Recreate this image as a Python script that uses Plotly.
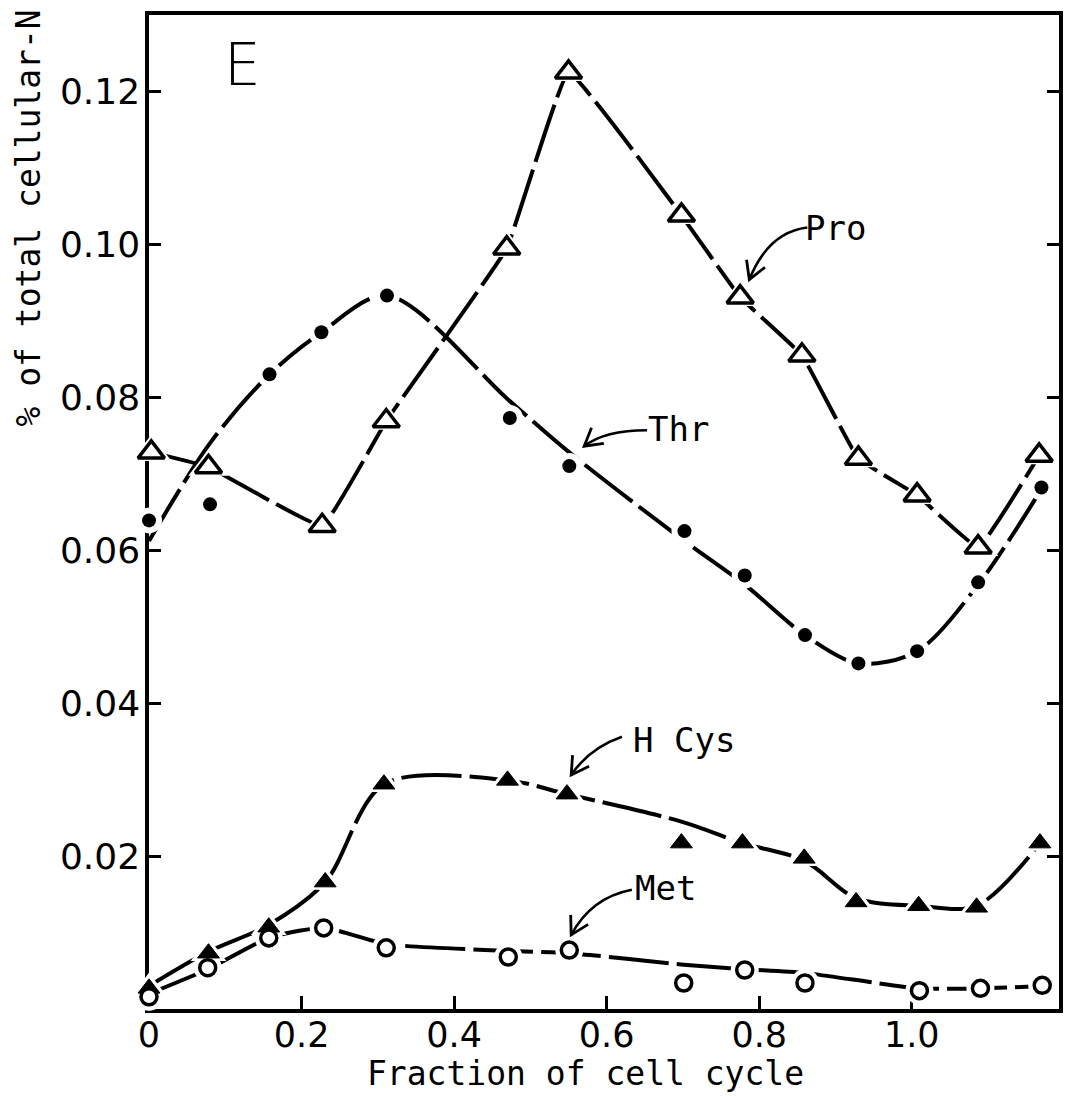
import math
import plotly.graph_objects as go

# ---------------- data ----------------
# Pro (open triangles)
pro_x = [0.003, 0.078, 0.227, 0.311, 0.469, 0.550, 0.698, 0.775, 0.856, 0.930, 1.007, 1.087, 1.167]
pro_y = [0.0728, 0.0709, 0.0632, 0.0769, 0.0995, 0.1225, 0.1038, 0.0931, 0.0855, 0.0720, 0.0672, 0.0604, 0.0724]

# Thr (filled circles) and the hand-drawn curve through them
thr_x = [0.0, 0.080, 0.158, 0.226, 0.312, 0.473, 0.551, 0.702, 0.781, 0.860, 0.930, 1.007, 1.087, 1.170]
thr_y = [0.0639, 0.0660, 0.0830, 0.0885, 0.0933, 0.0773, 0.0710, 0.0625, 0.0567, 0.0489, 0.0452, 0.0468, 0.0558, 0.0682]
thr_curve = [0.0612, 0.0740, 0.0830, 0.0885, 0.0933, 0.0795, 0.0728, 0.0612, 0.0555, 0.0489, 0.0452, 0.0468, 0.0555, 0.0680]

# H Cys (filled triangles)
hcys_x = [0.0, 0.078, 0.157, 0.231, 0.308, 0.470, 0.548, 0.698, 0.778, 0.859, 0.927, 1.009, 1.085, 1.168]
hcys_y = [0.0027, 0.0073, 0.0107, 0.0166, 0.0294, 0.0299, 0.0281, 0.0217, 0.0217, 0.0197, 0.0140, 0.0135, 0.0133, 0.0217]
hcys_curve = [0.0030, 0.0075, 0.0110, 0.0166, 0.0294, 0.0299, 0.0281, 0.0245, 0.0217, 0.0194, 0.0145, 0.0135, 0.0135, 0.0217]

# Met (open circles)
met_x = [0.0, 0.077, 0.157, 0.229, 0.311, 0.471, 0.551, 0.701, 0.781, 0.860, 1.010, 1.090, 1.171]
met_y = [0.0016, 0.0054, 0.0093, 0.0106, 0.0080, 0.0068, 0.0077, 0.0034, 0.0051, 0.0034, 0.0024, 0.0027, 0.0031]
met_curve = [0.0020, 0.0052, 0.0093, 0.0106, 0.0085, 0.0076, 0.0073, 0.0058, 0.0052, 0.0047, 0.0027, 0.0027, 0.0030]

x_tickvals = [0, 0.2, 0.4, 0.6, 0.8, 1.0]
x_ticktext = ["0", "0.2", "0.4", "0.6", "0.8", "1.0"]
y_tickvals = [0.02, 0.04, 0.06, 0.08, 0.10, 0.12]
y_ticktext = ["0.02", "0.04", "0.06", "0.08", "0.10", "0.12"]

# label positions (text), curved arrow start/control/tip
labels = [
    ("Pro", 0.8995, 0.1022, (0.863, 0.1022), (0.812, 0.1016), (0.787, 0.0954)),
    ("Thr", 0.6945, 0.0759, (0.653, 0.0757), (0.597, 0.0757), (0.5705, 0.0736)),
    ("H Cys", 0.701, 0.0352, (0.620, 0.0356), (0.577, 0.0341), (0.5535, 0.0306)),
    ("Met", 0.6775, 0.0158, (0.633, 0.0156), (0.580, 0.0146), (0.5535, 0.0097)),
]

# ---------------- geometry ----------------
W, H = 1066, 1096
ML, MR, MT, MB = 149, 3, 15, 87
XR = [0, 1.193]
YR = [0, 0.13]
PX_X = (W - ML - MR) / (XR[1] - XR[0])
PX_Y = (H - MT - MB) / (YR[1] - YR[0])

fig = go.Figure()

series_lines = [(pro_x, pro_y, 0.25), (thr_x, thr_curve, 0.9), (hcys_x, hcys_curve, 0.9), (met_x, met_curve, 0.6)]
for xs, ys, sm in series_lines:
    fig.add_trace(go.Scatter(x=xs, y=ys, mode="lines",
                             line=dict(color="black", width=4, shape="spline", smoothing=sm, dash="60px,8px"),
                             hoverinfo="skip", showlegend=False, cliponaxis=False))

markers = [
    (pro_x, pro_y, "triangle-up", 23, "white", 3.5),
    (thr_x, thr_y, "circle", 14, "black", 0),
    (hcys_x, hcys_y, "triangle-up", 19, "black", 1),
    (met_x, met_y, "circle", 16, "white", 3.5),
]

# white halos (gaps in lines around markers)
for xs, ys, sym, sz, fill, lw in markers:
    fig.add_trace(go.Scatter(x=xs, y=ys, mode="markers",
                             marker=dict(symbol=sym, size=sz + 12, color="white", line=dict(width=0)),
                             hoverinfo="skip", showlegend=False, cliponaxis=False))

for xs, ys, sym, sz, fill, lw in markers:
    fig.add_trace(go.Scatter(x=xs, y=ys, mode="markers",
                             marker=dict(symbol=sym, size=sz, color=fill,
                                         line=dict(width=lw, color="black")),
                             showlegend=False, cliponaxis=False))

annotations = []
shapes = []
ARM = 20.0
ANG = math.radians(30)
for text, tx, ty, st, ct, tp in labels:
    annotations.append(dict(x=tx, y=ty, xref="x", yref="y", text=text, showarrow=False,
                            font=dict(family="DejaVu Sans Mono", size=34, color="black"),
                            xanchor="center", yanchor="middle"))
    shapes.append(dict(type="path", xref="x", yref="y",
                       path=f"M {st[0]},{st[1]} Q {ct[0]},{ct[1]} {tp[0]},{tp[1]}",
                       line=dict(color="black", width=2.6)))
    # open V arrowhead, built in pixel space then mapped back to data units
    bx = (ct[0] - tp[0]) * PX_X
    by = (ct[1] - tp[1]) * PX_Y
    n = math.hypot(bx, by)
    bx, by = bx / n, by / n
    pts = []
    for s in (1, -1):
        c, si = math.cos(s * ANG), math.sin(s * ANG)
        rx = bx * c - by * si
        ry = bx * si + by * c
        pts.append((tp[0] + rx * ARM / PX_X, tp[1] + ry * ARM / PX_Y))
    shapes.append(dict(type="path", xref="x", yref="y",
                       path=f"M {pts[0][0]},{pts[0][1]} L {tp[0]},{tp[1]} L {pts[1][0]},{pts[1][1]}",
                       line=dict(color="black", width=2.8)))

# panel letter
annotations.append(dict(x=0.123, y=0.1234, xref="x", yref="y", text="E", showarrow=False,
                        font=dict(family="DejaVu Sans", size=58, color="black", weight=300),
                        xanchor="center", yanchor="middle"))
# axis titles
annotations.append(dict(x=(587 - ML) / (W - ML - MR), y=-(1073 - (H - MB)) / (H - MT - MB),
                        xref="paper", yref="paper",
                        text="Fraction of cell cycle", showarrow=False,
                        font=dict(family="DejaVu Sans Mono", size=33, color="black"),
                        xanchor="center", yanchor="middle"))
annotations.append(dict(x=-(ML - 28) / (W - ML - MR), y=((H - MB) - 218) / (H - MT - MB),
                        xref="paper", yref="paper",
                        text="% of total cellular-N", showarrow=False, textangle=-90,
                        font=dict(family="DejaVu Sans Mono", size=33, color="black"),
                        xanchor="center", yanchor="middle"))

fig.update_layout(
    width=W, height=H,
    margin=dict(l=ML, r=MR, t=MT, b=MB),
    paper_bgcolor="white", plot_bgcolor="white",
    annotations=annotations, shapes=shapes,
    showlegend=False,
)
fig.update_xaxes(range=XR, tickvals=x_tickvals, ticktext=x_ticktext,
                 ticks="inside", ticklen=13, tickwidth=3, tickcolor="black",
                 showline=True, linewidth=3.5, linecolor="black", mirror=True,
                 showgrid=False, zeroline=False, layer="below traces",
                 tickfont=dict(family="DejaVu Sans", size=35, color="black"),
                 ticklabelstandoff=-8)
fig.update_yaxes(range=YR, tickvals=y_tickvals, ticktext=y_ticktext,
                 ticks="inside", ticklen=12, tickwidth=3, tickcolor="black",
                 showline=True, linewidth=3.5, linecolor="black", mirror="ticks",
                 showgrid=False, zeroline=False, layer="below traces",
                 tickfont=dict(family="DejaVu Sans", size=36, color="black"),
                 ticklabelstandoff=-2)

fig.write_html("out.html", config={"displayModeBar": False},
               post_script="document.body.style.margin='0px';document.body.style.overflow='hidden';")
